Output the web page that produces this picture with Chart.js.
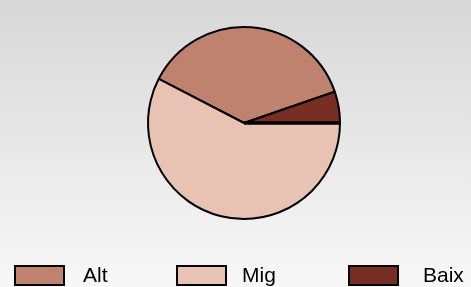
<!DOCTYPE html>
<html>
<head>
<meta charset="utf-8">
<script src="https://cdn.jsdelivr.net/npm/chart.js@4/dist/chart.umd.min.js"></script>
<style>
    html, body { margin: 0; padding: 0; }
    body {
        width: 471px;
        height: 287px;
        background: linear-gradient(to bottom, #d7d7d7 0%, #f8f8f8 100%);
        overflow: hidden;
    }
    #wrap { position: relative; width: 471px; height: 287px; }
</style>
</head>
<body>
<div id="wrap"><canvas id="grafic" width="471" height="287"></canvas></div>
<script>
// Dades del gràfic
const etiquetes = ['Alt', 'Mig', 'Baix'];
const valors = [37.1, 57.6, 5.3];
const colors = ['#bf826e', '#e8c3b4', '#782e22'];

// Ordre de dibuix del pastís (sentit horari des de dalt a l'esquerra)
const ordrePastis = [0, 2, 1];

// Llegenda pròpia: caixes i textos a la part inferior
const llegenda = {
    id: 'llegendaPropia',
    afterDraw(chart) {
        const ctx = chart.ctx;
        const caixaX = [14, 176, 348];
        const textX = [83, 242, 423];
        ctx.save();
        ctx.font = '21px "Liberation Sans", Arial, sans-serif';
        ctx.textBaseline = 'alphabetic';
        etiquetes.forEach((nom, i) => {
            ctx.fillStyle = colors[i];
            ctx.fillRect(caixaX[i] + 1, 266, 49, 19);
            ctx.lineWidth = 2;
            ctx.strokeStyle = '#000';
            ctx.strokeRect(caixaX[i] + 1, 266, 49, 19);
            ctx.fillStyle = '#000';
            ctx.fillText(nom, textX[i], 282);
        });
        ctx.restore();
    }
};

// Línia gruixuda a la vora inicial de l'últim sector
const vora = {
    id: 'voraGruixuda',
    afterDatasetsDraw(chart) {
        const meta = chart.getDatasetMeta(0);
        const arc = meta.data[meta.data.length - 1];
        if (!arc) return;
        const ctx = chart.ctx;
        const a = arc.startAngle;
        ctx.save();
        ctx.strokeStyle = '#000';
        ctx.lineWidth = 3.5;
        ctx.beginPath();
        ctx.moveTo(arc.x, arc.y);
        ctx.lineTo(arc.x + Math.cos(a) * arc.outerRadius, arc.y + Math.sin(a) * arc.outerRadius);
        ctx.stroke();
        ctx.restore();
    }
};

new Chart(document.getElementById('grafic'), {
    type: 'pie',
    data: {
        labels: ordrePastis.map(i => etiquetes[i]),
        datasets: [{
            data: ordrePastis.map(i => valors[i]),
            backgroundColor: ordrePastis.map(i => colors[i]),
            borderColor: '#000000',
            borderWidth: 2,
            radius: 96
        }]
    },
    options: {
        responsive: false,
        animation: false,
        rotation: -62.6,
        layout: {
            padding: { left: 17, right: 0, top: 0, bottom: 41 }
        },
        plugins: {
            legend: { display: false },
            tooltip: { enabled: false }
        }
    },
    plugins: [vora, llegenda]
});
</script>
</body>
</html>
